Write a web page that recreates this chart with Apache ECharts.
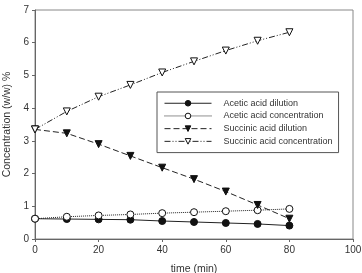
<!DOCTYPE html>
<html>
<head>
<meta charset="utf-8">
<script src="https://cdn.jsdelivr.net/npm/echarts@6/dist/echarts.min.js"></script>
<style>
  html, body { margin: 0; padding: 0; background: #fff; }
  #chart { width: 362px; height: 273px; }
</style>
</head>
<body>
<div id="chart"></div>
<script>
// time (min)
const times = [0, 10, 20, 30, 40, 50, 60, 70, 80];
const acetic_dilution = [0.62, 0.61, 0.60, 0.59, 0.55, 0.52, 0.49, 0.46, 0.41];
const acetic_concentration = [0.62, 0.68, 0.72, 0.75, 0.79, 0.82, 0.85, 0.88, 0.92];
const succinic_dilution = [3.35, 3.23, 2.90, 2.54, 2.18, 1.83, 1.45, 1.04, 0.62];
const succinic_concentration = [3.35, 3.90, 4.35, 4.71, 5.09, 5.43, 5.76, 6.06, 6.32];
const seriesNames = ['Acetic acid dilution', 'Acetic acid concentration', 'Succinic acid dilution', 'Succinic acid concentration'];

const pairs = arr => times.map((t, i) => [t, arr[i]]);
const font = 'Liberation Sans, Arial, sans-serif';
const lineTypes = ['solid', 'dotted', [6, 3], [6, 2, 1, 2, 1, 2]];
const fills = ['#111', '#fff', '#111', '#fff'];

const chart = echarts.init(document.getElementById('chart'));

const mk = (i, data, symbol, rot) => ({
    name: seriesNames[i],
    type: 'line',
    data: pairs(data),
    symbol: symbol,
    symbolSize: 7,
    symbolRotate: rot,
    lineStyle: { color: '#222', width: 1, type: lineTypes[i] },
    itemStyle: { color: fills[i], borderColor: '#111', borderWidth: 1 },
    emphasis: { disabled: true },
    z: 3
});

chart.setOption({
    animation: false,
    grid: { left: 35, right: 9, top: 10, bottom: 34, show: true, borderColor: '#888', borderWidth: 1, outerBoundsMode: 'none', containLabel: false },
    legend: {
        orient: 'vertical',
        left: 157, top: 92,
        itemWidth: 47, itemHeight: 7, itemGap: 2.2,
        padding: [6, 6, 6, 7],
        borderColor: '#555', borderWidth: 1,
        symbolRotate: 'inherit',
        textStyle: { fontFamily: font, fontSize: 9, color: '#333', padding: [0, 0, 0, 7], lineHeight: 10.5 },
        data: seriesNames.map((n, i) => ({
            name: n,
            lineStyle: { width: 1, type: lineTypes[i], color: '#222' },
            itemStyle: { color: fills[i], borderColor: '#111', borderWidth: 1 }
        }))
    },
    xAxis: {
        type: 'value', min: 0, max: 100, interval: 20,
        name: 'time (min)', nameLocation: 'middle', nameGap: 25,
        nameTextStyle: { fontFamily: font, fontSize: 10.5, color: '#333' },
        axisLine: { show: true, onZero: false, lineStyle: { color: '#666' } },
        axisTick: { show: true, inside: false, length: 3, lineStyle: { color: '#666' } },
        axisLabel: { fontFamily: font, fontSize: 10, color: '#333', margin: 6 },
        splitLine: { show: false }
    },
    yAxis: {
        type: 'value', min: 0, max: 7, interval: 1,
        name: 'Concentration (w/w) %', nameLocation: 'middle', nameGap: 21,
        nameTextStyle: { fontFamily: font, fontSize: 10.5, color: '#333' },
        axisLine: { show: true, lineStyle: { color: '#666' } },
        axisTick: { show: true, inside: false, length: 3, lineStyle: { color: '#666' } },
        axisLabel: { fontFamily: font, fontSize: 10, color: '#333', margin: 6 },
        splitLine: { show: false }
    },
    series: [
        mk(0, acetic_dilution, 'circle', 0),
        mk(1, acetic_concentration, 'circle', 0),
        mk(2, succinic_dilution, 'triangle', 180),
        mk(3, succinic_concentration, 'triangle', 180)
    ]
});
</script>
</body>
</html>
